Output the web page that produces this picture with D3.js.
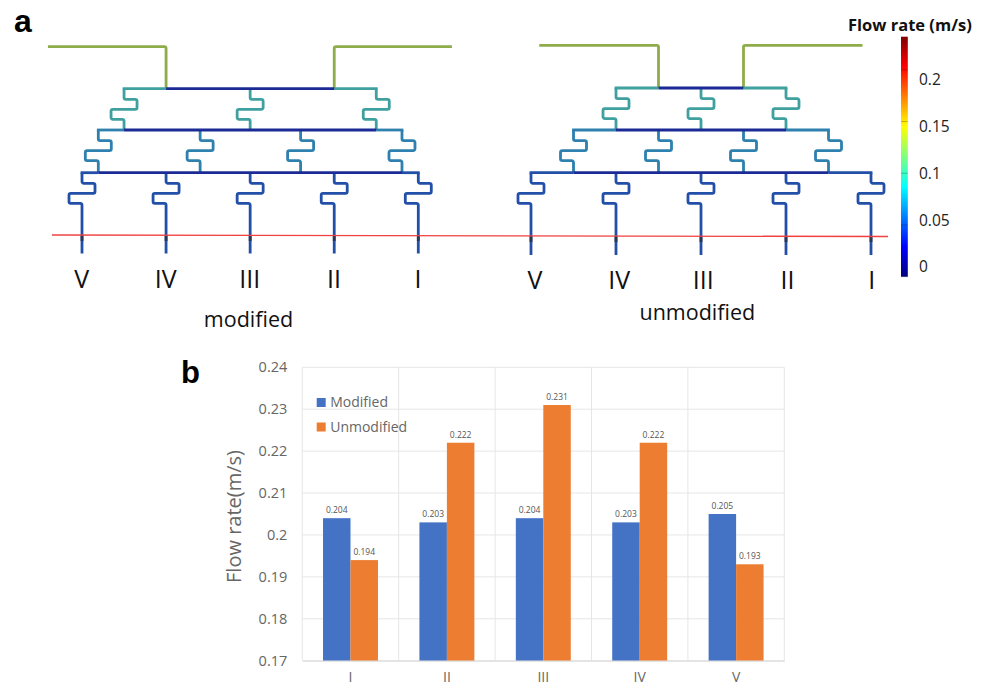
<!DOCTYPE html>
<html>
<head>
<meta charset="utf-8">
<script src="https://d3js.org/d3.v7.min.js"></script>
<style>
html, body { margin: 0; padding: 0; background: #fff; overflow: hidden; }
svg { display: block; }
</style>
</head>
<body>
<svg width="986" height="687"></svg>
<script>
// bar chart values
var categories = ["I", "II", "III", "IV", "V"]
var modified = [0.204, 0.203, 0.204, 0.203, 0.205]
var unmodified = [0.194, 0.222, 0.231, 0.222, 0.193]
var yTicks = [0.17, 0.18, 0.19, 0.2, 0.21, 0.22, 0.23, 0.24]
var seriesNames = ["Modified", "Unmodified"]

// network layout, in units of outlet spacing
var outletLabels = ["V", "IV", "III", "II", "I"]
var outlets = [0, 1, 2, 3, 4]
var modTier1 = [0.5, 2, 3.5]
var modTier2 = [0.194, 1.405, 2.6, 3.806]
var modInlets = [1, 3]
var modInletEnds = [-0.405, 4.4]
var unmodTier1 = [1, 2, 3]
var unmodTier2 = [0.5, 1.5, 2.5, 3.5]
var unmodInlets = [1.5, 2.5]
var unmodInletEnds = [0.097, 3.9]

// colour bar
var barTicks = [0, 0.05, 0.1, 0.15, 0.2]
var jetStops = ["#00007f", "#0000ff", "#007fff", "#00ffff", "#7fff7f", "#ffff00", "#ff7f00", "#ff0000", "#7f0000"]

// flow speed in each part of the channels (m/s)
var flowInlet = 0.13
var flowBusInner = 0.01
var flowTier1 = 0.08
var flowTier2 = 0.06
var flowTier3 = 0.03

var svg = d3.select("svg")
var sans = "'Open Sans', sans-serif"

var channelColor = d3.scaleLinear()
    .domain([0.01, 0.03, 0.06, 0.08, 0.13])
    .range(["#1c2c96", "#2150a8", "#2f80ae", "#3fa0a0", "#8fac4c"])

var blur = svg.append("defs").append("filter").attr("id", "soft")
blur.append("feGaussianBlur").attr("stdDeviation", 0.45)

// polyline with small rounded corners
function channel(points) {
    var p = d3.path(), r = 1.8
    p.moveTo(points[0][0], points[0][1])
    for (var i = 1; i < points.length - 1; i++) {
        p.arcTo(points[i][0], points[i][1], points[i + 1][0], points[i + 1][1], r)
    }
    var last = points[points.length - 1]
    p.lineTo(last[0], last[1])
    return p.toString()
}

function drawNetwork(o) {
    var x = d3.scaleLinear().domain([0, 4]).range(o.xRange)
    var labelX = d3.scaleLinear().domain([0, 4]).range(o.labelRange)
    var g = svg.append("g").attr("filter", "url(#soft)").attr("fill", "none")
        .attr("stroke-width", 2.8).attr("stroke-linecap", "butt")

    function seg(points, flow) {
        g.append("path").attr("d", channel(points)).attr("stroke", channelColor(flow))
    }
    // bends between two bus bars
    function serpentine(xv, y0, y1, flow) {
        var px = x(xv)
        seg([[px, y0], [px, y0 + 10.6], [px + 13, y0 + 10.6], [px + 13, y0 + 20.6],
            [px - 13, y0 + 20.6], [px - 13, y0 + 30.6], [px, y0 + 30.6], [px, y1]], flow)
    }

    var y1 = o.levels[0], y2 = o.levels[1], y3 = o.levels[2]

    // inlets
    seg([[x(o.inletEnds[0]), o.inletY], [x(o.inlets[0]), o.inletY], [x(o.inlets[0]), y1]], flowInlet)
    seg([[x(o.inletEnds[1]), o.inletY], [x(o.inlets[1]), o.inletY], [x(o.inlets[1]), y1]], flowInlet)

    o.tier1.forEach(function (d) { serpentine(d, y1, y2, flowTier1) })
    o.tier2.forEach(function (d) { serpentine(d, y2, y3, flowTier2) })
    outlets.forEach(function (d) {
        serpentine(d, y3, o.outletEnd, flowTier3)
    })

    // bus bars, outer ends are faster than the middle
    function bus(y, ends, inner, outerFlow) {
        seg([[x(ends[0]) - 1.4, y], [x(inner[0]), y]], outerFlow)
        seg([[x(inner[1]), y], [x(ends[1]) + 1.4, y]], outerFlow)
        seg([[x(inner[0]), y], [x(inner[1]), y]], flowBusInner)
    }
    bus(y1, [o.tier1[0], o.tier1[o.tier1.length - 1]], o.inlets, flowTier1)
    bus(y2, [o.tier2[0], o.tier2[o.tier2.length - 1]], [o.tier1[0], o.tier1[o.tier1.length - 1]], flowTier2)
    bus(y3, [0, 4], [o.tier2[0], o.tier2[o.tier2.length - 1]], flowTier3)

    // dark stretch just under the section line
    outlets.forEach(function (d) {
        g.append("line").attr("x1", x(d)).attr("x2", x(d))
            .attr("y1", o.sectionY).attr("y2", o.sectionY + 6)
            .attr("stroke", "#2a3550")
    })

    // outlet labels
    svg.append("g").selectAll("text").data(outletLabels).enter().append("text")
        .attr("x", function (d, i) { return labelX(i) })
        .attr("y", o.labelY)
        .attr("text-anchor", "middle")
        .attr("font-family", sans)
        .attr("font-size", 25)
        .attr("fill", "#111")
        .text(function (d) { return d })
}

drawNetwork({
    xRange: [82, 418.3], levels: [88.7, 130, 172.7], inletY: 46.7, outletEnd: 253.5, sectionY: 235,
    tier1: modTier1, tier2: modTier2, inlets: modInlets, inletEnds: modInletEnds,
    labelRange: [81.7, 418], labelY: 288
})
drawNetwork({
    xRange: [531, 871], levels: [88, 130, 172.7], inletY: 45.3, outletEnd: 255, sectionY: 236,
    tier1: unmodTier1, tier2: unmodTier2, inlets: unmodInlets, inletEnds: unmodInletEnds,
    labelRange: [535, 871.7], labelY: 288.5
})

// section line
svg.append("line").attr("x1", 52).attr("y1", 235).attr("x2", 888).attr("y2", 236.5)
    .attr("stroke", "#f0413f").attr("stroke-width", 1.3)

svg.append("text").attr("x", 248.5).attr("y", 326.7).attr("text-anchor", "middle")
    .attr("font-family", sans).attr("font-size", 21.5).attr("fill", "#111").text("modified")
svg.append("text").attr("x", 697.3).attr("y", 320).attr("text-anchor", "middle")
    .attr("font-family", sans).attr("font-size", 21.5).attr("fill", "#111").text("unmodified")

svg.append("text").attr("x", 14).attr("y", 32).attr("font-family", "'Liberation Sans', sans-serif")
    .attr("font-weight", "bold").attr("font-size", 32).attr("fill", "#000").text("a")
svg.append("text").attr("x", 181).attr("y", 383).attr("font-family", "'Liberation Sans', sans-serif")
    .attr("font-weight", "bold").attr("font-size", 31).attr("fill", "#000").text("b")

// colour bar
var barScale = d3.scaleLinear().domain([0, 0.232]).range([276.7, 36.7])
var labelScale = d3.scaleLinear().domain([0, 0.2]).range([267, 79.3])

var grad = svg.select("defs").append("linearGradient").attr("id", "jet")
    .attr("x1", 0).attr("x2", 0).attr("y1", 1).attr("y2", 0)
grad.selectAll("stop").data(jetStops).enter().append("stop")
    .attr("offset", function (d, i) { return i / (jetStops.length - 1) })
    .attr("stop-color", function (d) { return d })

svg.append("rect").attr("x", 901).attr("y", barScale.range()[1]).attr("width", 6.8)
    .attr("height", barScale.range()[0] - barScale.range()[1]).attr("fill", "url(#jet)")

svg.append("g").selectAll("line").data(barTicks).enter().append("line")
    .attr("x1", 901).attr("x2", 907.7)
    .attr("y1", function (d) { return barScale(d) }).attr("y2", function (d) { return barScale(d) })
    .attr("stroke", "#000").attr("stroke-opacity", 0.35).attr("stroke-width", 0.7)

svg.append("g").selectAll("text").data(barTicks).enter().append("text")
    .attr("x", 919).attr("y", function (d) { return labelScale(d) })
    .attr("dy", "0.35em")
    .attr("font-family", sans).attr("font-size", 15.5).attr("fill", "#222")
    .text(function (d) { return d })

svg.append("text").attr("x", 848).attr("y", 30.5)
    .attr("font-family", sans).attr("font-weight", "bold").attr("font-size", 16.5).attr("fill", "#111")
    .text("Flow rate (m/s)")

// bar chart
var left = 302.3, right = 784.3, top_ = 367.3, bottom = 660.7

var x0 = d3.scaleBand().domain(categories).range([left, right])
    .paddingInner(0.43).paddingOuter(0.215)
var x1 = d3.scaleBand().domain(seriesNames).range([0, x0.bandwidth()])
var y = d3.scaleLinear().domain([0.17, 0.24]).range([bottom, top_])
var barColor = d3.scaleOrdinal().domain(seriesNames).range(["#4472c4", "#ed7d31"])

// grid
svg.append("g").selectAll("line").data(yTicks).enter().append("line")
    .attr("x1", left).attr("x2", right)
    .attr("y1", function (d) { return y(d) }).attr("y2", function (d) { return y(d) })
    .attr("stroke", "#e6e6e6").attr("stroke-width", 1)

var step = x0.step()
svg.append("g").selectAll("line").data(d3.range(categories.length + 1)).enter().append("line")
    .attr("x1", function (d) { return left + d * step }).attr("x2", function (d) { return left + d * step })
    .attr("y1", top_).attr("y2", bottom)
    .attr("stroke", "#e6e6e6").attr("stroke-width", 1)

var groups = svg.append("g").selectAll("g").data(categories).enter().append("g")
    .attr("transform", function (d) { return "translate(" + x0(d) + ",0)" })

var seriesValues = [modified, unmodified]
seriesNames.forEach(function (name, s) {
    groups.append("rect")
        .attr("x", x1(name))
        .attr("width", x1.bandwidth())
        .attr("y", function (d, i) { return y(seriesValues[s][i]) })
        .attr("height", function (d, i) { return bottom - y(seriesValues[s][i]) })
        .attr("fill", barColor(name))
    groups.append("text")
        .attr("x", x1(name) + x1.bandwidth() / 2)
        .attr("y", function (d, i) { return y(seriesValues[s][i]) - 5 })
        .attr("text-anchor", "middle")
        .attr("font-family", sans).attr("font-size", 8.5).attr("fill", "#555")
        .text(function (d, i) { return seriesValues[s][i].toFixed(3) })
})

var yAxis = svg.append("g").attr("transform", "translate(" + left + ",0)")
    .call(d3.axisLeft(y).tickValues(yTicks).tickSize(0).tickPadding(15).tickFormat(function (d) { return d }))
yAxis.select(".domain").remove()
yAxis.selectAll("text").attr("font-family", sans).attr("font-size", 14.5).attr("fill", "#666")

// kept a little above the page edge so the labels are not cut
var xAxis = svg.append("g").attr("transform", "translate(0," + bottom + ")")
    .call(d3.axisBottom(x0).tickSize(0).tickPadding(11))
xAxis.select(".domain").attr("stroke", "#d9d9d9")
xAxis.selectAll("text").attr("font-family", sans).attr("font-size", 14).attr("fill", "#666")

svg.append("text")
    .attr("transform", "translate(241,516.5) rotate(-90)")
    .attr("text-anchor", "middle")
    .attr("font-family", sans).attr("font-size", 20).attr("fill", "#666")
    .text("Flow rate(m/s)")

// legend
var legend = svg.append("g").selectAll("g").data(seriesNames).enter().append("g")
    .attr("transform", function (d, i) { return "translate(316.7," + (398 + i * 24.5) + ")" })
legend.append("rect").attr("width", 9).attr("height", 9)
    .attr("fill", function (d) { return barColor(d) })
legend.append("text").attr("x", 13.5).attr("y", 4.5).attr("dy", "0.35em")
    .attr("font-family", sans).attr("font-size", 14).attr("fill", "#666")
    .text(function (d) { return d })
</script>
</body>
</html>
